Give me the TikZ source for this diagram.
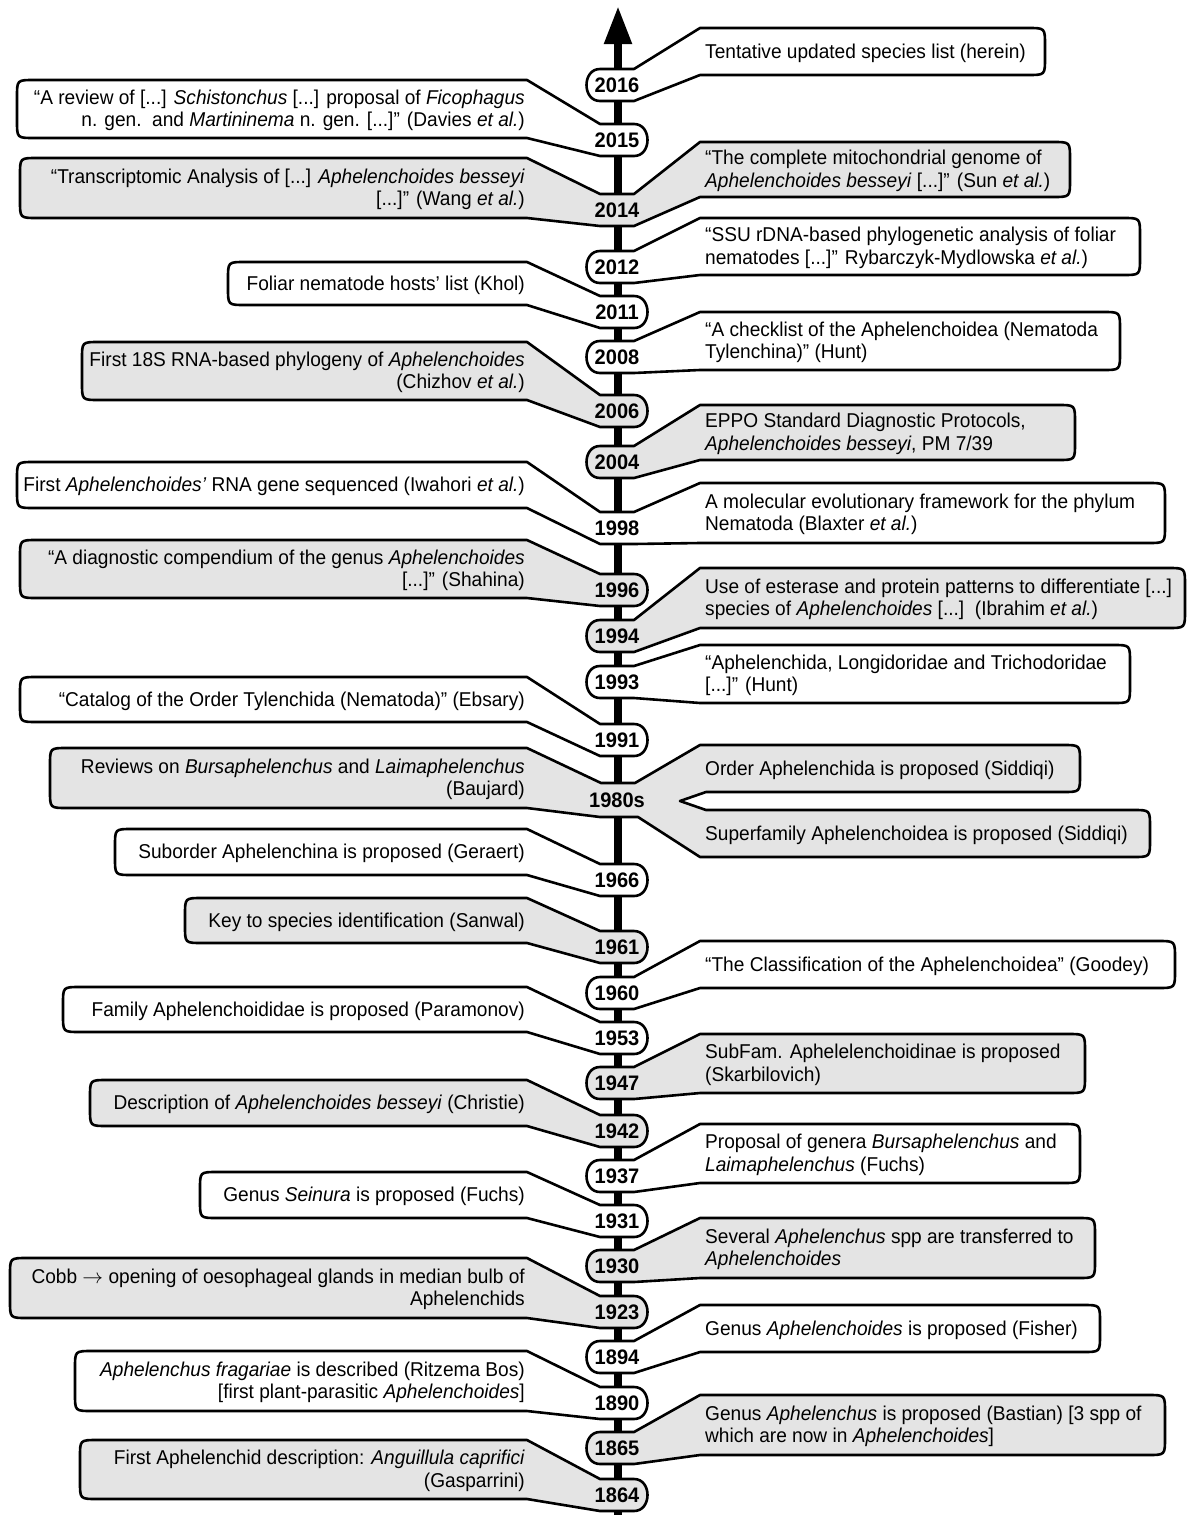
\documentclass[tikz,border=0pt]{standalone}
\usepackage{fontspec}
\setmainfont[FakeStretch=0.955]{Liberation Sans}
\usetikzlibrary{arrows.meta}
\definecolor{cg}{RGB}{228,228,228}
\newcommand{\fs}{\fontsize{20}{22.5}\selectfont}
\newcommand{\fsy}{\fontsize{21}{23}\selectfont}
% left callout: #1 fill, #2 year y, #3 outer x, #4 top, #5 bottom
\newcommand{\callL}[5]{\draw[callout,fill=#1] (527,#4) -- (600,#2-16) -- (634,#2-16) .. controls (652,#2-16) and (652,#2+16) .. (634,#2+16) -- (600,#2+16) -- (527,#5) -- (#3+17,#5) .. controls (#3,#5) and (#3,#5) .. (#3,#5-17) -- (#3,#4+17) .. controls (#3,#4) and (#3,#4) .. (#3+17,#4) -- cycle;}
% right callout
\newcommand{\callR}[5]{\draw[callout,fill=#1] (700,#4) -- (634,#2-16) -- (600,#2-16) .. controls (582,#2-16) and (582,#2+16) .. (600,#2+16) -- (634,#2+16) -- (700,#5) -- (#3-17,#5) .. controls (#3,#5) and (#3,#5) .. (#3,#5-17) -- (#3,#4+17) .. controls (#3,#4) and (#3,#4) .. (#3-17,#4) -- cycle;}
% callouts on both sides
\newcommand{\callLR}[8]{\draw[callout,fill=#1] (527,#4) -- (600,#2-16) -- (634,#2-16) -- (700,#7) -- (#6-17,#7) .. controls (#6,#7) and (#6,#7) .. (#6,#7+17) -- (#6,#8-17) .. controls (#6,#8) and (#6,#8) .. (#6-17,#8) -- (700,#8) -- (634,#2+16) -- (600,#2+16) -- (527,#5) -- (#3+17,#5) .. controls (#3,#5) and (#3,#5) .. (#3,#5-17) -- (#3,#4+17) .. controls (#3,#4) and (#3,#4) .. (#3+17,#4) -- cycle;}
\begin{document}
\begin{tikzpicture}[x=1pt,y=-1pt,
  callout/.style={draw=black,line width=2.6pt,line join=round},
  ltext/.style={anchor=east,align=right,inner sep=0pt,font=\fs,yshift=-1.5pt},
  rtext/.style={anchor=west,align=left,inner sep=0pt,font=\fs,yshift=-1.5pt},
  yr/.style={inner sep=0pt,font=\fsy\bfseries,yshift=-0.5pt},
  axisline/.style={line width=8pt,-{Triangle[length=38pt,width=26pt]}}]
\fill[white] (0,0) rectangle (1190,1515);
\useasboundingbox (0,0) rectangle (1190,1515);
\coordinate (abot) at (618,1515);
\coordinate (atop) at (618,6);
\draw[axisline] (abot) -- (atop);

% 2016
\callR{white}{85}{1045}{28}{75}
\node[rtext] (t2016) at (705,51.5) {Tentative updated species list (herein)};
\node[yr] (y2016) at (617,85) {2016};
% 2015
\callL{white}{140}{17}{80}{138}
\node[ltext] (t2015) at (525,109) {“A review of [...] \textit{Schistonchus} [...] proposal of \textit{Ficophagus}\\ n. gen.\ \ and \textit{Martininema} n. gen. [...]” (Davies \textit{et al.})};
\node[yr] (y2015) at (617,140) {2015};
% 2014
\callLR{cg}{210}{20}{158}{218}{1070}{142}{197}
\node[ltext] (t2014a) at (525,188) {“Transcriptomic Analysis of [...] \textit{Aphelenchoides besseyi}\\{}[...]” (Wang \textit{et al.})};
\node[rtext] (t2014b) at (705,169.5) {“The complete mitochondrial genome of\\ \textit{Aphelenchoides besseyi} [...]” (Sun \textit{et al.})};
\node[yr] (y2014) at (617,210) {2014};
% 2012
\callR{white}{267}{1140}{218}{275}
\node[rtext] (t2012) at (705,246.5) {“SSU rDNA-based phylogenetic analysis of foliar\\ nematodes [...]” Rybarczyk-Mydlowska \textit{et al.})};
\node[yr] (y2012) at (617,267) {2012};
% 2011
\callL{white}{312}{228}{262}{305}
\node[ltext] (t2011) at (525,283.5) {Foliar nematode hosts’ list (Khol)};
\node[yr] (y2011) at (617,312) {2011};
% 2008
\callR{white}{357}{1120}{312}{370}
\node[rtext] (t2008) at (705,341) {“A checklist of the Aphelenchoidea (Nematoda\\ Tylenchina)” (Hunt)};
\node[yr] (y2008) at (617,357) {2008};
% 2006
\callL{cg}{411}{82}{342}{400}
\node[ltext] (t2006) at (525,371) {First 18S RNA-based phylogeny of \textit{Aphelenchoides}\\ (Chizhov \textit{et al.})};
\node[yr] (y2006) at (617,411) {2006};
% 2004
\callR{cg}{462}{1075}{405}{460}
\node[rtext] (t2004) at (705,432.5) {EPPO Standard Diagnostic Protocols,\\ \textit{Aphelenchoides besseyi}, PM 7/39};
\node[yr] (y2004) at (617,462) {2004};
% 1998
\callLR{white}{528}{17}{462}{508}{1165}{483}{543}
\node[ltext] (t1998a) at (525,485) {First \textit{Aphelenchoides’} RNA gene sequenced (Iwahori \textit{et al.})};
\node[rtext] (t1998b) at (705,513) {A molecular evolutionary framework for the phylum\\ Nematoda (Blaxter \textit{et al.})};
\node[yr] (y1998) at (617,528) {1998};
% 1996
\callL{cg}{590}{20}{540}{598}
\node[ltext] (t1996) at (525,569) {“A diagnostic compendium of the genus \textit{Aphelenchoides}\\{}[...]” (Shahina)};
\node[yr] (y1996) at (617,590) {1996};
% 1994
\callR{cg}{636}{1185}{568}{628}
\node[rtext] (t1994) at (705,598) {Use of esterase and protein patterns to differentiate [...]\\ species of \textit{Aphelenchoides} [...]\ \ (Ibrahim \textit{et al.})};
\node[yr] (y1994) at (617,636) {1994};
% 1993
\callR{white}{682}{1130}{645}{703}
\node[rtext] (t1993) at (705,674) {“Aphelenchida, Longidoridae and Trichodoridae\\{}[...]” (Hunt)};
\node[yr] (y1993) at (617,682) {1993};
% 1991
\callL{white}{740}{20}{677}{722}
\node[ltext] (t1991) at (525,699.5) {“Catalog of the Order Tylenchida (Nematoda)” (Ebsary)};
\node[yr] (y1991) at (617,740) {1991};
% 1980s
\draw[callout,fill=cg] (527,748) -- (601,783) -- (635,783) -- (700,745) -- (1063,745) .. controls (1080,745) and (1080,745) .. (1080,762) -- (1080,775) .. controls (1080,792) and (1080,792) .. (1063,792) -- (706,792) -- (680,801) -- (706,810) -- (1133,810) .. controls (1150,810) and (1150,810) .. (1150,827) -- (1150,840) .. controls (1150,857) and (1150,857) .. (1133,857) -- (700,857) -- (638,817) -- (600,817) -- (527,808) -- (67,808) .. controls (50,808) and (50,808) .. (50,791) -- (50,765) .. controls (50,748) and (50,748) .. (67,748) -- cycle;
\node[ltext] (t1980a) at (525,778) {Reviews on \textit{Bursaphelenchus} and \textit{Laimaphelenchus}\\ (Baujard)};
\node[rtext] (t1980b) at (705,768.5) {Order Aphelenchida is proposed (Siddiqi)};
\node[rtext] (t1980c) at (705,833.5) {Superfamily Aphelenchoidea is proposed (Siddiqi)};
\node[yr] (y1980) at (617,800) {1980s};
% 1966
\callL{white}{880}{115}{829}{875}
\node[ltext] (t1966) at (525,852) {Suborder Aphelenchina is proposed (Geraert)};
\node[yr] (y1966) at (617,880) {1966};
% 1961
\callL{cg}{947}{185}{898}{943}
\node[ltext] (t1961) at (525,920.5) {Key to species identification (Sanwal)};
\node[yr] (y1961) at (617,947) {1961};
% 1960
\callR{white}{993}{1175}{941}{988}
\node[rtext] (t1960) at (705,964.5) {“The Classification of the Aphelenchoidea” (Goodey)};
\node[yr] (y1960) at (617,993) {1960};
% 1953
\callL{white}{1038}{63}{987}{1032}
\node[ltext] (t1953) at (525,1009.5) {Family Aphelenchoididae is proposed (Paramonov)};
\node[yr] (y1953) at (617,1038) {1953};
% 1947
\callR{cg}{1083}{1085}{1034}{1093}
\node[rtext] (t1947) at (705,1063.5) {SubFam. Aphelelenchoidinae is proposed\\ (Skarbilovich)};
\node[yr] (y1947) at (617,1083) {1947};
% 1942
\callL{cg}{1131}{90}{1080}{1126}
\node[ltext] (t1942) at (525,1103) {Description of \textit{Aphelenchoides besseyi} (Christie)};
\node[yr] (y1942) at (617,1131) {1942};
% 1937
\callR{white}{1176}{1080}{1124}{1183}
\node[rtext] (t1937) at (705,1153.5) {Proposal of genera \textit{Bursaphelenchus} and\\ \textit{Laimaphelenchus} (Fuchs)};
\node[yr] (y1937) at (617,1176) {1937};
% 1931
\callL{white}{1221}{200}{1172}{1218}
\node[ltext] (t1931) at (525,1195) {Genus \textit{Seinura} is proposed (Fuchs)};
\node[yr] (y1931) at (617,1221) {1931};
% 1930
\callR{cg}{1266}{1095}{1218}{1278}
\node[rtext] (t1930) at (705,1248) {Several \textit{Aphelenchus} spp are transferred to\\ \textit{Aphelenchoides}};
\node[yr] (y1930) at (617,1266) {1930};
% 1923
\callL{cg}{1312}{10}{1258}{1318}
\node[ltext] (t1923) at (525,1288) {Cobb $\rightarrow$ opening of oesophageal glands in median bulb of\\ Aphelenchids};
\node[yr] (y1923) at (617,1312) {1923};
% 1894
\callR{white}{1357}{1100}{1305}{1352}
\node[rtext] (t1894) at (705,1328.5) {Genus \textit{Aphelenchoides} is proposed (Fisher)};
\node[yr] (y1894) at (617,1357) {1894};
% 1890
\callL{white}{1403}{75}{1351}{1411}
\node[ltext] (t1890) at (525,1381) {\textit{Aphelenchus fragariae} is described (Ritzema Bos)\\{}[first plant-parasitic \textit{Aphelenchoides}]};
\node[yr] (y1890) at (617,1403) {1890};
% 1865
\callR{cg}{1448}{1165}{1395}{1455}
\node[rtext] (t1865) at (705,1425) {Genus \textit{Aphelenchus} is proposed (Bastian) [3 spp of\\ which are now in \textit{Aphelenchoides}]};
\node[yr] (y1865) at (617,1448) {1865};
% 1864
\callL{cg}{1495}{80}{1440}{1499}
\node[ltext] (t1864) at (525,1469.5) {First Aphelenchid description: \textit{Anguillula caprifici}\\ (Gasparrini)};
\node[yr] (y1864) at (617,1495) {1864};
\end{tikzpicture}
\end{document}
